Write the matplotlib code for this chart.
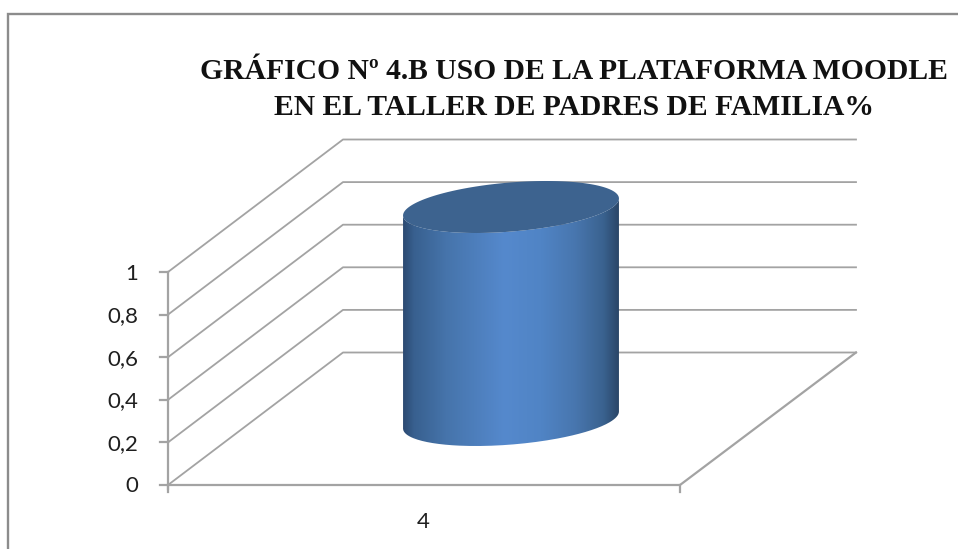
import numpy as np
import matplotlib
matplotlib.use("Agg")
import matplotlib.pyplot as plt
from matplotlib.colors import LinearSegmentedColormap
from matplotlib.patches import PathPatch
from matplotlib.path import Path

title_text = "GRÁFICO Nº 4.B USO DE LA PLATAFORMA MOODLE\nEN EL TALLER DE PADRES DE FAMILIA%"
categories = ["4"]
series_values = [1.0]
y_ticks = [0, 0.2, 0.4, 0.6, 0.8, 1.0]
y_tick_labels = ["0", "0,2", "0,4", "0,6", "0,8", "1"]

W, H = 958, 549
fig = plt.figure(figsize=(W / 100, H / 100), dpi=100, facecolor="white")
ax = fig.add_axes([0, 0, 1, 1])
ax.set_xlim(0, W)
ax.set_ylim(H, 0)
ax.axis("off")

# oblique projection of the chart box onto the picture
X0, X1, Y0, UNIT = 168.0, 680.0, 485.0, 213.0
DX, DY = 175.0, -132.5
GRAY = "#a3a3a3"


def py(v, depth=0.0):
    return Y0 - v * UNIT + depth * DY


def px(frac, depth=0.0):
    return X0 + frac * (X1 - X0) + depth * DX


# outer frame
ax.plot([8.5, 8.5, W + 5], [H + 5, 13.5, 13.5], color="#8c8c8c", lw=1.7, solid_joinstyle="miter", zorder=1)

# gridlines + wall
for v in y_ticks:
    ax.plot([px(0), px(0, 1), px(1, 1) + 1], [py(v), py(v, 1), py(v, 1)], color=GRAY, lw=1.3, zorder=2)
# floor
ax.plot([px(0), px(1), px(1, 1) + 1], [py(0), py(0), py(0, 1)], color=GRAY, lw=1.6, zorder=2)
# axis and ticks
ax.plot([px(0), px(0)], [py(1), py(0) + 4], color=GRAY, lw=1.6, zorder=2)
for v, lab in zip(y_ticks, y_tick_labels):
    ax.plot([px(0) - 8, px(0)], [py(v), py(v)], color=GRAY, lw=1.6, zorder=2)
    ax.text(138, py(v) + 1.5, lab, ha="right", va="center", fontsize=16, family="Lato", color="#1f1f1f")
for f in (0, 1):
    ax.plot([px(f), px(f)], [py(0), py(0) + 7], color=GRAY, lw=1.6, zorder=2)
for cat in categories:
    ax.text(423, 522, cat, ha="center", va="center", fontsize=16, family="Lato", color="#1f1f1f")

# cylinder
CX, A, B, THETA = 511.0, 108.3, 24.5, np.radians(4.74)
base_y = 420.0
top_y = base_y - series_values[0] * UNIT
t = np.linspace(0, 2 * np.pi, 241)


def ell(cy, tt):
    x = CX + A * np.cos(tt) * np.cos(THETA) + B * np.sin(tt) * np.sin(THETA)
    y = cy - A * np.cos(tt) * np.sin(THETA) + B * np.sin(tt) * np.cos(THETA)
    return x, y


t0 = np.arctan2(B * np.sin(THETA), A * np.cos(THETA))  # right extreme of x
tr = np.linspace(t0, t0 + np.pi, 121)
bx, by = ell(base_y, tr)
tx, ty = ell(top_y, tr[::-1])
body = Path(np.column_stack([np.r_[bx, tx], np.r_[by, ty]]))
stops = [(0, "#2c4a72"), (0.05, "#38608f"), (0.2, "#4674ab"), (0.47, "#5589cd"),
         (0.64, "#5084c5"), (0.8, "#4876ae"), (0.93, "#3a628f"), (1, "#2a4668")]
cmap = LinearSegmentedColormap.from_list("cyl", stops)
grad = np.linspace(0, 1, 256).reshape(1, -1)
xl, xr = CX - 108, CX + 108
im = ax.imshow(grad, cmap=cmap, extent=[xl, xr, base_y + 40, top_y - 40], aspect="auto", zorder=3, interpolation="bilinear")
ax.set_xlim(0, W)
ax.set_ylim(H, 0)
clip = PathPatch(body, transform=ax.transData, fc="none", ec="none")
ax.add_patch(clip)
im.set_clip_path(clip)
ex, ey = ell(top_y, t)
ax.fill(ex, ey, color="#3d638f", lw=0, zorder=4)

ax.text(574, 89.5, title_text, ha="center", va="center", family="Liberation Serif", fontweight="bold",
        fontsize=21.35, color="#111111", linespacing=1.39, zorder=5)

fig.savefig("out.png", dpi=100, facecolor="white")
